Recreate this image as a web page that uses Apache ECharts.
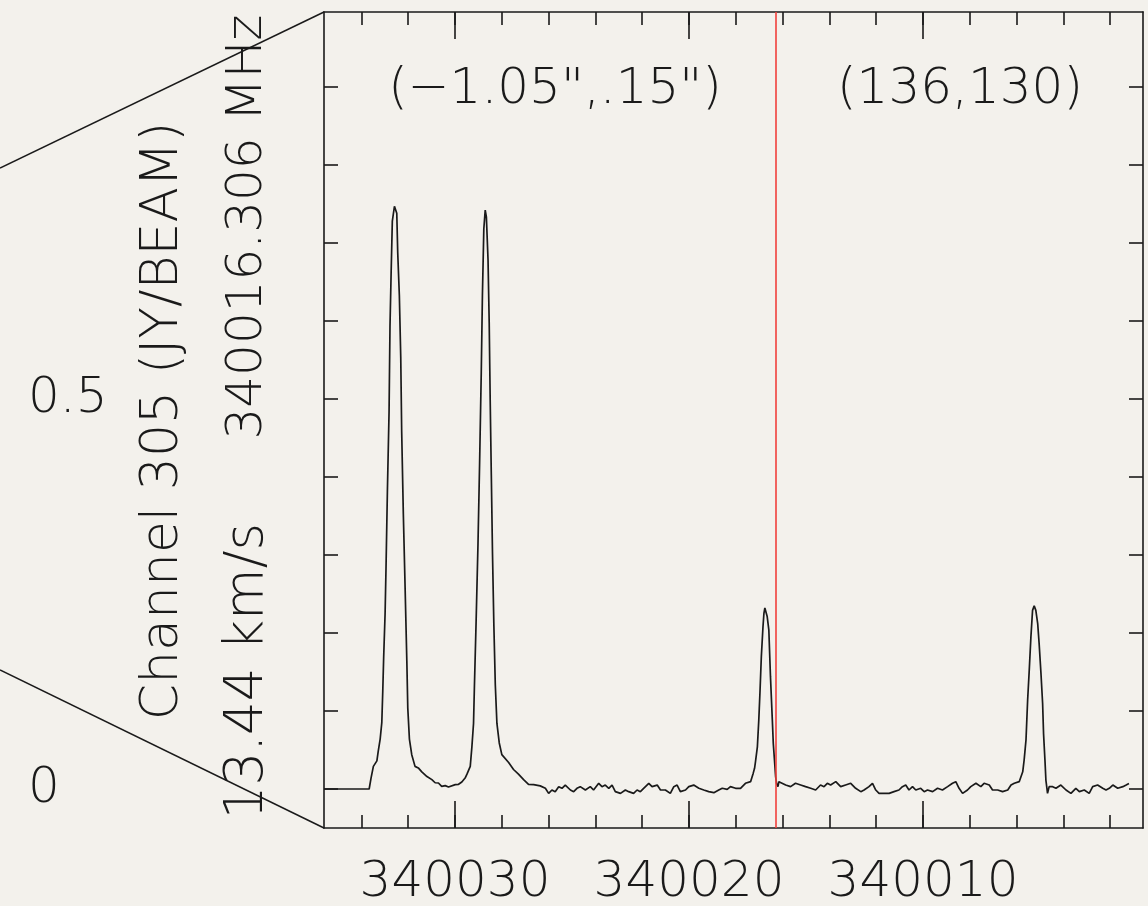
<!DOCTYPE html>
<html><head><meta charset="utf-8">
<script src="https://cdn.jsdelivr.net/npm/echarts@6/dist/echarts.min.js"></script>
<style>html,body{margin:0;padding:0;background:#f3f1ec}#c{width:1148px;height:906px}</style>
</head><body><div id="c"></div>
<script>
// ---- data (frequency in MHz, flux in JY/BEAM) ----
const freq = [
340035.60,340033.67,340033.59,340033.49,340033.34,340033.28,340033.20,340033.13,340033.09,340033.05,
340032.99,340032.95,340032.89,340032.82,340032.78,340032.73,340032.68,340032.59,340032.49,340032.45,
340032.38,340032.32,340032.28,340032.21,340032.13,340032.06,340032.02,340031.95,340031.85,340031.71,
340031.57,340031.42,340031.20,340030.99,340030.85,340030.71,340030.57,340030.42,340030.28,340029.99,
340029.85,340029.71,340029.57,340029.49,340029.35,340029.28,340029.21,340029.17,340029.10,340029.02,
340028.95,340028.88,340028.83,340028.77,340028.71,340028.66,340028.59,340028.54,340028.50,340028.45,
340028.40,340028.34,340028.28,340028.21,340028.11,340028.00,340027.71,340027.50,340027.29,340027.07,
340026.86,340026.64,340026.36,340026.14,340026.00,340025.86,340025.72,340025.57,340025.43,340025.29,
340025.07,340024.93,340024.79,340024.65,340024.43,340024.22,340024.08,340023.86,340023.72,340023.58,
340023.43,340023.29,340023.15,340022.93,340022.72,340022.58,340022.37,340022.22,340022.08,340021.94,
340021.72,340021.58,340021.36,340021.22,340021.01,340020.80,340020.65,340020.51,340020.37,340020.15,
340020.01,340019.80,340019.58,340019.37,340019.16,340018.94,340018.73,340018.58,340018.37,340018.23,
340018.01,340017.80,340017.59,340017.37,340017.30,340017.26,340017.20,340017.16,340017.08,340017.02,
340016.97,340016.91,340016.84,340016.80,340016.76,340016.70,340016.66,340016.59,340016.52,340016.44,
340016.40,340016.34,340016.30,340016.26,340016.20,340016.16,340016.09,340015.87,340015.66,340015.45,
340015.23,340015.02,340014.80,340014.59,340014.38,340014.23,340014.09,340013.95,340013.73,340013.52,
340013.31,340013.09,340012.88,340012.66,340012.52,340012.31,340012.16,340012.02,340011.88,340011.67,
340011.45,340011.24,340011.03,340010.88,340010.74,340010.60,340010.45,340010.31,340010.10,340009.95,
340009.81,340009.59,340009.38,340009.17,340008.95,340008.74,340008.60,340008.46,340008.31,340008.10,
340007.96,340007.74,340007.53,340007.39,340007.17,340007.03,340006.81,340006.60,340006.38,340006.24,
340006.10,340005.89,340005.82,340005.74,340005.68,340005.60,340005.53,340005.46,340005.39,340005.32,
340005.25,340005.18,340005.10,340005.04,340004.96,340004.89,340004.85,340004.79,340004.75,340004.68,
340004.61,340004.46,340004.32,340004.11,340003.89,340003.68,340003.47,340003.32,340003.11,340002.90,
340002.75,340002.54,340002.32,340002.18,340002.04,340001.89,340001.68,340001.46,340001.32,340001.20
];
const flux = [
0,0,0.014,0.029,0.036,0.049,0.064,0.085,0.124,0.169,
0.224,0.283,0.383,0.483,0.593,0.663,0.728,0.747,0.738,0.688,
0.633,0.553,0.458,0.353,0.253,0.164,0.104,0.064,0.044,0.029,
0.027,0.022,0.016,0.012,0.008,0.0077,0.0034,0.0043,0.0026,0.0056,
0.006,0.009,0.014,0.019,0.029,0.054,0.084,0.134,0.214,0.313,
0.418,0.533,0.633,0.718,0.742,0.733,0.678,0.598,0.503,0.403,
0.303,0.209,0.134,0.084,0.059,0.044,0.034,0.025,0.019,0.012,
0.006,0.0056,0.004,0.0009,-0.0056,-0.0013,-0.0034,0.003,0.0009,0.005,
-0.0013,-0.0034,0.0009,0.003,-0.0013,0.003,-0.0013,0.0073,0.003,0.005,
0.0009,0.005,-0.0034,-0.0056,-0.0013,-0.0034,-0.0056,-0.0013,-0.0034,0.0009,
0.0073,0.003,0.005,-0.0013,-0.0013,-0.0056,0.003,0.005,-0.0034,-0.0013,
0.003,0.005,0.0009,-0.0013,-0.0034,-0.0047,-0.0013,0.0009,-0.0004,0.003,
0.0009,0.0009,0.0073,0.0094,0.0115,0.020,0.0265,0.035,0.054,0.088,
0.123,0.170,0.208,0.225,0.232,0.232,0.221,0.204,0.144,0.088,
0.0585,0.033,0.016,0.0073,0.003,0.0094,0.008,0.0051,0.003,0.0073,
0.0051,0.003,0.0009,-0.0013,0.0051,0.003,0.0073,0.0051,0.0094,0.003,
0.0051,0.0073,0.0009,-0.0034,-0.0013,0.003,0.0073,-0.0013,-0.0056,-0.0056,
-0.0056,-0.0034,-0.0013,0.003,0.0051,-0.0013,0.003,-0.0013,0.0009,-0.0034,
-0.0013,-0.0034,0.0009,-0.0013,0.003,0.0073,0.0094,0.0009,-0.0056,-0.0013,
0.003,0.0073,0.003,0.0073,0.0051,-0.0013,-0.0013,-0.0034,-0.0013,0.0051,
0.0073,0.0094,0.0115,0.022,0.037,0.063,0.114,0.153,0.195,0.229,
0.235,0.229,0.212,0.187,0.148,0.110,0.071,0.037,0.0115,-0.0056,
0.003,0.003,0.0009,0.0051,-0.0013,-0.0056,0.0009,-0.0034,-0.0013,-0.0056,
0.003,0.0051,0.0009,-0.0013,0.0009,0.0051,0.0009,0.003,0.0051,0.007
];
const xMinorTicks = [340002,340004,340006,340008,340010,340012,340014,340016,340018,340020,340022,340024,340026,340028,340030,340032,340034];
const xMajorTicks = [340010,340020,340030];
const xTickLabels = [340030,340020,340010];
const yTicks = [0,0.1,0.2,0.3,0.4,0.5,0.6,0.7,0.8,0.9];
const yTickLabels = [0,0.5];
const restFreq = 340016.306;
const xRange = [340000.6, 340035.6];
const yRange = [-0.05, 0.996];
const labelChannel = 'Channel 305 (JY/BEAM)';
const labelVelocity = '13.44 km/s';
const labelFreq = '340016.306 MHz';
const labelOffset = '(\u22121.05",.15")';
const labelPixel = '(136,130)';

// ---- chart ----
const W = 1148, H = 906;
const G = {left: 324, right: 5, top: 12, bottom: 78, outerBoundsMode: 'none', containLabel: false};
const FONT = "'DejaVu Sans ExtraLight', 'DejaVu Sans', sans-serif";
const FW = 200;
const INK = '#1a1a1a';
const FS = 50;
const lineStyle = {color: INK, width: 1.6};

function xAx(pos, ticks, len, showLine, labels) {
  return {
    type: 'value', position: pos, min: xRange[0], max: xRange[1], inverse: true,
    axisLine: {show: showLine, onZero: false, lineStyle: lineStyle},
    axisTick: {show: true, inside: true, length: len, customValues: ticks, lineStyle: lineStyle},
    axisLabel: labels ? {show: true, customValues: labels, formatter: v => String(v),
      fontFamily: FONT, fontWeight: FW, fontSize: FS, color: INK, margin: 55, verticalAlign: 'middle'} : {show: false},
    splitLine: {show: false}
  };
}
function yAx(pos, labels) {
  return {
    type: 'value', position: pos, min: yRange[0], max: yRange[1],
    axisLine: {show: true, onZero: false, lineStyle: lineStyle},
    axisTick: {show: true, inside: true, length: 14, customValues: yTicks, lineStyle: lineStyle},
    axisLabel: labels ? {show: true, customValues: labels, formatter: v => String(v), align: 'left',
      fontFamily: FONT, fontWeight: FW, fontSize: FS, color: INK, margin: 296} : {show: false},
    splitLine: {show: false}
  };
}
function vText(text, x, y, size) {
  return {type: 'text', x: x, y: y, rotation: Math.PI / 2,
    style: {text: text, fontFamily: FONT, fontWeight: FW, fontSize: size, fill: INK, align: 'center', verticalAlign: 'middle'}};
}
function hText(text, x, y) {
  return {type: 'text', x: x, y: y,
    style: {text: text, fontFamily: FONT, fontWeight: FW, fontSize: FS, fill: INK, align: 'center', verticalAlign: 'middle'}};
}

const chart = echarts.init(document.getElementById('c'), null, {renderer: 'canvas'});
chart.setOption({
  backgroundColor: '#f3f1ec',
  animation: false,
  grid: G,
  xAxis: [
    xAx('bottom', xMinorTicks, 13, true, xTickLabels),
    xAx('bottom', xMajorTicks, 27, false, null),
    xAx('top', xMinorTicks, 13, true, null),
    xAx('top', xMajorTicks, 27, false, null)
  ],
  yAxis: [yAx('left', yTickLabels), yAx('right', null)],
  series: [{
    type: 'line', xAxisIndex: 0, yAxisIndex: 0,
    data: freq.map((f, i) => [f, flux[i]]),
    showSymbol: false, symbol: 'none',
    lineStyle: {color: INK, width: 1.7},
    markLine: {silent: true, symbol: 'none', label: {show: false},
      lineStyle: {color: '#f0403c', width: 1.6, type: 'solid'},
      data: [{xAxis: restFreq}]}
  }],
  graphic: [
    {type: 'line', shape: {x1: G.left, y1: G.top, x2: 0, y2: 168}, style: {stroke: INK, lineWidth: 1.5}},
    {type: 'line', shape: {x1: G.left, y1: H - G.bottom, x2: 0, y2: 670}, style: {stroke: INK, lineWidth: 1.5}},
    vText(labelChannel, 163, 421, 52),
    vText(labelVelocity, 248, 671, 53),
    vText(labelFreq, 248, 227, 50),
    hText(labelOffset, 555, 90),
    hText(labelPixel, 960, 90)
  ]
});
</script></body></html>
